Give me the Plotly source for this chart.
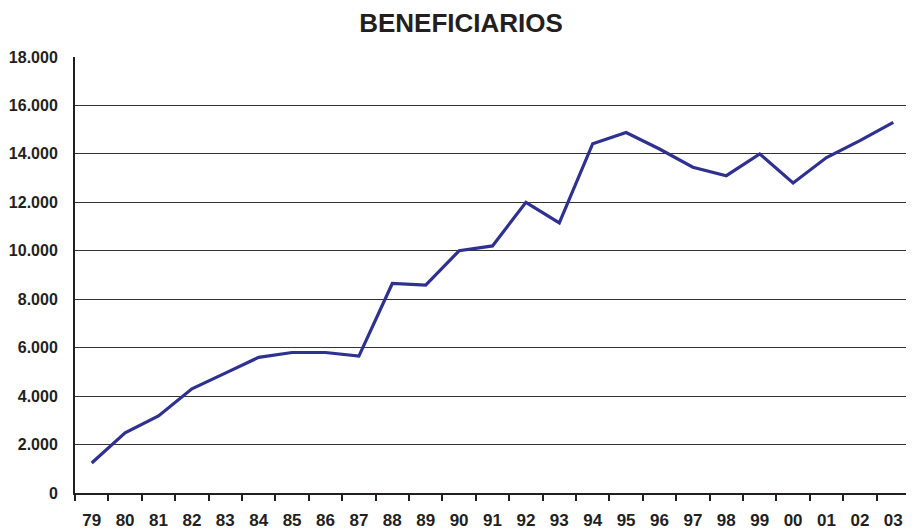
import plotly.graph_objects as go

# years (two-digit labels) and number of beneficiaries
years = ["79", "80", "81", "82", "83", "84", "85", "86", "87", "88", "89", "90", "91",
         "92", "93", "94", "95", "96", "97", "98", "99", "00", "01", "02", "03"]
beneficiarios = [1240, 2480, 3180, 4300, 4950, 5600, 5800, 5800, 5650, 8650, 8580, 10000, 10200,
                 12000, 11150, 14420, 14880, 14200, 13450, 13100, 14000, 12800, 13850, 14550, 15300]

y_ticks = [0, 2000, 4000, 6000, 8000, 10000, 12000, 14000, 16000, 18000]

fig = go.Figure()
fig.add_trace(go.Scatter(
    x=years, y=beneficiarios, mode="lines",
    line=dict(color="#2E3192", width=3.2),
    hoverinfo="x+y",
))

# page body has an 8px margin, so the figure is sized a bit smaller
fig.update_layout(
    width=906, height=523,
    margin=dict(l=67, r=4, t=49, b=38),
    paper_bgcolor="white", plot_bgcolor="white",
    separators=",.",
    showlegend=False,
    font=dict(family="Liberation Sans, Arial, sans-serif", color="#231F20"),
    title=dict(text="BENEFICIARIOS", x=0.5, xanchor="center", y=0.972, yanchor="middle",
               font=dict(size=26, weight="bold", color="#231F20")),
    xaxis=dict(
        type="category", tickson="boundaries", ticks="outside", ticklen=6,
        range=[-0.5, len(years) - 0.5],
        tickcolor="#231F20", tickwidth=1.5,
        showline=True, linecolor="#231F20", linewidth=2,
        showgrid=False, ticklabelstandoff=11, automargin=False,
        tickfont=dict(size=17, weight="bold"),
    ),
    yaxis=dict(
        range=[0, 18000], tickvals=y_ticks, tickformat=",d",
        showgrid=True, gridcolor="#333333", gridwidth=1,
        showline=True, linecolor="#231F20", linewidth=2,
        zeroline=False, ticks="", ticklabelstandoff=12, automargin=False,
        tickfont=dict(size=16, weight="bold"),
    ),
)

fig.write_html("out.html")
